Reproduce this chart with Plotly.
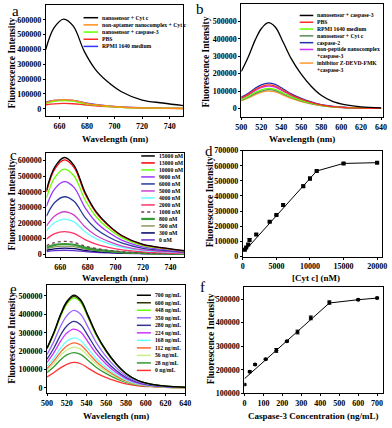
import plotly.graph_objects as go

W, H = 392, 428
SERIF = "Liberation Serif"
K = 1000  # values below are read in thousands

# ---- panel a: emission spectra, Cyt c selectivity ----
wl_a = [650, 656, 663, 670, 678, 686, 695, 705, 720, 735, 750]
a_names = ["nanosensor + Cyt c", "non-aptamer nanocomplex + Cyt c",
           "nanosensor + caspase-3", "PBS", "RPMI 1640 medium"]
a_colors = ["#000000", "#ff8c1a", "#66ff00", "#ff2a2a", "#3333ff"]
a_vals = [
    [400, 545, 605, 557, 387, 266, 182, 115, 59, 39, 21],
    [41, 56, 62, 57, 40, 27, 19, 12, 6, 4, 2],
    [36, 50, 55, 51, 35, 24, 17, 10, 6, 4, 2],
    [27, 33, 36, 34, 27, 20, 14, 9, 5, 3, 2],
    [45, 56, 60, 56, 42, 30, 20, 13, 7, 5, 3],
]

# ---- panel b: emission spectra, caspase-3 selectivity ----
wl_b = [500, 507, 514, 520, 527, 534, 542, 550, 560, 570, 580, 592, 605, 620, 640]
b_names = ["nanosensor + caspase-3", "PBS", "RPMI 1640 medium", "nanosensor + Cyt c",
           "caspase-2", "non-peptide nanocomplex", "inhibitor Z-DEVD-FMK"]
b_colors = ["#000000", "#ff2a2a", "#66ff00", "#5a8a5a", "#2233aa", "#cc33ff", "#ff9933"]
b_vals = [
    [212, 296, 394, 458, 493, 468, 380, 286, 197, 128, 76, 39, 20, 9, 3],
    [60, 81, 108, 126, 135, 128, 104, 78, 54, 35, 21, 11, 5, 2, 1],
    [50, 69, 92, 107, 115, 109, 89, 67, 46, 30, 18, 9, 5, 2, 1],
    [47, 65, 86, 100, 108, 103, 83, 63, 43, 28, 17, 9, 4, 2, 1],
    [65, 87, 116, 135, 145, 138, 112, 84, 58, 38, 22, 12, 6, 3, 1],
    [57, 77, 102, 119, 128, 122, 99, 74, 51, 33, 20, 10, 5, 2, 1],
    [43, 60, 80, 93, 100, 95, 77, 58, 40, 26, 16, 8, 4, 2, 1],
]

# ---- panel c: spectra vs Cyt c concentration ----
c_names = ["15000 nM", "13000 nM", "10000 nM", "9000 nM", "6000 nM", "5000 nM", "4000 nM",
           "2000 nM", "1000 nM", "800 nM", "500 nM", "300 nM", "0 nM"]
c_colors = ["#000000", "#ff0000", "#66ff00", "#9933ff", "#2a3a9a", "#cc44cc", "#66ffff",
            "#ff3366", "#7a3a5a", "#339933", "#8a9a5b", "#000066", "#6633cc"]
c_vals = [
    [409, 558, 620, 570, 397, 273, 186, 118, 62, 40, 22],
    [399, 545, 605, 557, 387, 266, 182, 115, 61, 39, 21],
    [360, 491, 545, 501, 349, 240, 164, 104, 55, 35, 19],
    [307, 419, 465, 428, 298, 205, 140, 88, 47, 30, 16],
    [243, 331, 368, 339, 236, 162, 110, 70, 37, 24, 13],
    [180, 245, 272, 250, 174, 120, 82, 52, 27, 18, 10],
    [149, 203, 225, 207, 144, 99, 68, 43, 23, 15, 8],
    [96, 131, 145, 133, 93, 64, 44, 28, 15, 9, 5],
    [54, 74, 82, 75, 52, 36, 25, 16, 8, 5, 3],
    [43, 59, 65, 60, 42, 29, 20, 12, 7, 4, 2],
    [34, 47, 52, 48, 33, 23, 16, 10, 5, 3, 2],
    [25, 34, 38, 35, 24, 17, 11, 7, 4, 2, 1],
    [17, 23, 25, 23, 16, 11, 8, 5, 3, 2, 1],
]

# ---- panel d: calibration, Cyt c ----
d_conc = [300, 500, 800, 1000, 2000, 4000, 5000, 6000, 9000, 10000, 11000, 15000, 20000]
d_int = [45, 60, 80, 110, 145, 230, 275, 340, 465, 515, 565, 615, 620]
d_err = [3, 3, 5, 8, 6, 6, 5, 8, 8, 10, 6, 4, 4]
d_fit_x = [300, 11000, 15000, 20000]
d_fit_y = [38, 565, 615, 620]

# ---- panel e: spectra vs caspase-3 concentration ----
e_names = ["700 ng/mL", "600 ng/mL", "448 ng/mL", "350 ng/mL", "280 ng/mL", "224 ng/mL",
           "168 ng/mL", "112 ng/mL", "56 ng/mL", "28 ng/mL", "0 ng/mL"]
e_colors = ["#000000", "#333300", "#66ff00", "#9966ff", "#333399", "#cc33ff",
            "#66ffff", "#ff6633", "#ccee88", "#339933", "#ff3333"]
e_vals = [
    [217, 303, 404, 470, 505, 480, 389, 293, 202, 131, 78, 40, 20, 9, 3],
    [214, 299, 398, 463, 498, 473, 383, 289, 199, 129, 77, 40, 20, 9, 3],
    [211, 294, 392, 456, 490, 466, 377, 284, 196, 127, 76, 39, 20, 9, 3],
    [181, 253, 338, 392, 422, 401, 325, 245, 169, 110, 65, 34, 17, 8, 3],
    [156, 217, 290, 337, 362, 344, 279, 210, 145, 94, 56, 29, 14, 7, 2],
    [138, 192, 256, 298, 320, 304, 246, 186, 128, 83, 50, 26, 13, 6, 2],
    [117, 163, 218, 253, 272, 258, 209, 158, 109, 71, 42, 22, 11, 5, 2],
    [105, 147, 196, 228, 245, 233, 189, 142, 98, 64, 38, 20, 10, 4, 1],
    [95, 133, 178, 206, 222, 211, 171, 129, 89, 58, 34, 18, 9, 4, 1],
    [83, 115, 154, 179, 192, 182, 148, 111, 77, 50, 30, 15, 8, 3, 1],
    [59, 83, 110, 128, 138, 131, 106, 80, 55, 36, 21, 11, 6, 2, 1],
]

# ---- panel f: calibration, caspase-3 ----
f_conc = [0, 28, 56, 112, 168, 224, 280, 350, 448, 600, 700]
f_int = [137, 192, 222, 245, 282, 321, 360, 420, 485, 497, 504]
f_err = [3, 4, 3, 3, 8, 3, 8, 8, 7, 3, 3]
f_fit_x = [0, 448, 600, 700]
f_fit_y = [162, 483, 497, 504]


def px(x):
    return x / W


def py(y):
    return 1 - y / H


def axis(xdom=None, ydom=None, **kw):
    d = dict(showline=True, mirror=True, linecolor="black", linewidth=1,
             ticks="outside", ticklen=2, tickwidth=1, tickcolor="black",
             showgrid=False, zeroline=False, tickformat="d",
             tickfont=dict(family=SERIF, size=8, color="black", weight="bold"))
    if xdom:
        d["domain"] = [px(xdom[0]), px(xdom[1])]
    if ydom:
        d["domain"] = [py(ydom[1]), py(ydom[0])]
    d.update(kw)
    return d


fig = go.Figure()


def spectra(wl, vals, colors, n, dashes=None, widths=None):
    order = list(range(len(vals)))[::-1]
    for i in order:
        fig.add_trace(go.Scatter(
            x=wl, y=[v * K for v in vals[i]], mode="lines",
            line=dict(color=colors[i], width=(widths or {}).get(i, 1.3),
                      shape="spline", smoothing=1.0,
                      dash=(dashes or {}).get(i, "solid")),
            xaxis="x" + n, yaxis="y" + n, showlegend=False))


spectra(wl_a, a_vals, a_colors, "")
spectra(wl_b, b_vals, b_colors, "2")
spectra(wl_a, c_vals, c_colors, "3", dashes={8: "dot"}, widths={9: 2.2})
spectra(wl_b, e_vals, e_colors, "5")

# d calibration
fig.add_trace(go.Scatter(x=d_fit_x, y=[v * K for v in d_fit_y], mode="lines",
                         line=dict(color="black", width=1), xaxis="x4", yaxis="y4",
                         showlegend=False))
fig.add_trace(go.Scatter(x=d_conc, y=[v * K for v in d_int], mode="markers",
                         marker=dict(symbol="square", size=4, color="black"),
                         error_y=dict(type="data", array=[v * K for v in d_err],
                                      color="black", thickness=1, width=2),
                         xaxis="x4", yaxis="y4", showlegend=False))
# f calibration
fig.add_trace(go.Scatter(x=f_fit_x, y=[v * K for v in f_fit_y], mode="lines",
                         line=dict(color="black", width=1), xaxis="x6", yaxis="y6",
                         showlegend=False))
fig.add_trace(go.Scatter(x=f_conc, y=[v * K for v in f_int], mode="markers",
                         marker=dict(symbol="circle", size=4, color="black"),
                         error_y=dict(type="data", array=[v * K for v in f_err],
                                      color="black", thickness=1, width=2),
                         xaxis="x6", yaxis="y6", showlegend=False))

fig.update_layout(
    width=W, height=428, margin=dict(l=0, r=0, t=0, b=0),
    paper_bgcolor="white", plot_bgcolor="white", showlegend=False,
    xaxis=axis(xdom=(41, 183), range=[650, 750], dtick=20, anchor="y"),
    yaxis=axis(ydom=(1, 114.6), range=[-50000, 700000], dtick=100000, anchor="x",
               tickvals=[0, 100000, 200000, 300000, 400000, 500000, 600000]),
    xaxis2=axis(xdom=(242.7, 389), range=[500, 642], dtick=20, anchor="y2"),
    yaxis2=axis(ydom=(0, 115.6), range=[-50000, 600000], anchor="x2",
                tickvals=[0, 100000, 200000, 300000, 400000, 500000]),
    xaxis3=axis(xdom=(41.7, 184), range=[650, 750], dtick=20, anchor="y3"),
    yaxis3=axis(ydom=(152, 258.7), range=[-20000, 650000], anchor="x3",
                tickvals=[0, 100000, 200000, 300000, 400000, 500000, 600000]),
    xaxis4=axis(xdom=(244.3, 387.7), range=[0, 20700], dtick=5000, anchor="y4"),
    yaxis4=axis(ydom=(149.7, 258), range=[0, 700000], dtick=100000, anchor="x4"),
    xaxis5=axis(xdom=(42.3, 185), range=[500, 640], dtick=20, anchor="y5"),
    yaxis5=axis(ydom=(287, 397.7), range=[-30000, 560000], anchor="x5",
                tickvals=[0, 100000, 200000, 300000, 400000, 500000]),
    xaxis6=axis(xdom=(246, 388.7), range=[0, 730], dtick=100, anchor="y6"),
    yaxis6=axis(ydom=(289.3, 397.7), range=[100000, 550000], anchor="x6",
                tickvals=[100000, 200000, 300000, 400000, 500000]),
)

ann = []
shapes = []


def text(x, y, s, size, angle=0, anchor="center", weight="bold", family=SERIF):
    ann.append(dict(x=px(x), y=py(y), xref="paper", yref="paper", text=s,
                    showarrow=False, textangle=angle, xanchor=anchor, yanchor="middle",
                    font=dict(family=family, size=size, color="black", weight=weight)))


def legend(rows, x0, x1, xt, y0, step):
    for i, (label, color, dash, width) in enumerate(rows):
        y = y0 + i * step
        if color:
            shapes.append(dict(type="line", xref="paper", yref="paper",
                               x0=px(x0), x1=px(x1), y0=py(y), y1=py(y),
                               line=dict(color=color, width=width, dash=dash)))
        text(xt, y, label, 5.7, anchor="left")


legend([(n, c, "solid", 1.5) for n, c in zip(a_names, a_colors)],
       80, 95, 97, 14, 7.33)

b_rows = []
for n, c in zip(b_names, b_colors):
    b_rows.append((n, c, "solid", 1.5))
    if n.startswith("non-peptide") or n.startswith("inhibitor"):
        b_rows.append(("+caspase-3", None, None, None))
legend(b_rows, 303, 317, 319, 11.7, 6.95)

c_rows = []
for i, (n, c) in enumerate(zip(c_names, c_colors)):
    c_rows.append((n, c, "dot" if i == 8 else "solid", 2.2 if i == 9 else 1.5))
legend(c_rows, 139.5, 153.5, 155.5, 155.2, 7.15)

legend([(n, c, "solid", 1.5) for n, c in zip(e_names, e_colors)],
       135, 149.5, 151.7, 297.5, 7.68)

# axis titles
text(6, 60, "Fluorescence Intensity", 9.5, angle=-90)
text(112, 138, "Wavelength (nm)", 9)
text(206, 59, "Fluorescence Intensity", 9.5, angle=-90)
text(305, 138, "Wavelength (nm)", 9)
text(6, 205, "Fluorescence Intensity", 9.5, angle=-90)
text(112, 280, "Wavelength (nm)", 9)
text(210, 202, "Fluorescence Intensity", 9.5, angle=-90)
text(320, 280, "[Cyt c] (nM)", 9)
text(6, 341, "Fluorescence Intensity", 9.5, angle=-90)
text(113, 421, "Wavelength (nm)", 9)
text(211, 342, "Fluorescence Intensity", 9.5, angle=-90)
text(317, 421, "Caspase-3 Concentration (ng/mL)", 9)

# panel letters
for lab, x, y in [("a", 10, 7), ("b", 200, 5), ("c", 7.5, 154.5),
                  ("d", 209, 150.5), ("e", 7.5, 291), ("f", 203, 289.5)]:
    text(x, y, lab, 15, weight="normal")

fig.update_layout(annotations=ann, shapes=shapes)
fig.write_html("out.html", config={"displayModeBar": False},
               post_script="document.body.style.margin='0';"
                           "document.body.style.overflow='hidden';")
